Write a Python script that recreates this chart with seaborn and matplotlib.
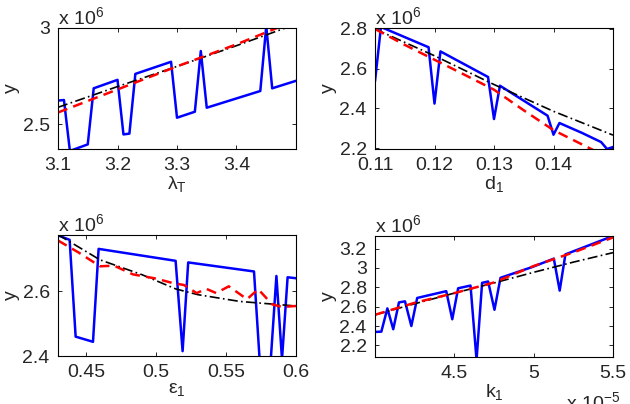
# Sensitivity curves, 2x2 panels
import numpy as np
import pandas as pd
import matplotlib
matplotlib.use("Agg")
import matplotlib.pyplot as plt
import seaborn as sns

# ------------------------------------------
# DATA (y in units of 1e6)
# ------------------------------------------

# panel 1: lambda_T
lam_x_blue = [3.10, 3.11, 3.12, 3.15, 3.16, 3.20, 3.21, 3.22, 3.23, 3.29,
              3.30, 3.33, 3.34, 3.35, 3.44, 3.45, 3.46, 3.50]
lam_y_blue = [2.622, 2.625, 2.36, 2.394, 2.686, 2.73, 2.446, 2.45, 2.761, 2.824,
              2.533, 2.564, 2.88, 2.585, 2.672, 3.01, 2.686, 2.725]
lam_x_line = [3.10, 3.20, 3.30, 3.40, 3.50]
lam_y_black = [2.587, 2.695, 2.80, 2.908, 3.02]
lam_y_red = [2.56, 2.68, 2.80, 2.915, 3.04]

# panel 2: d_1
d_x_blue = [0.110, 0.111, 0.119, 0.120, 0.121, 0.129, 0.130, 0.131,
            0.139, 0.140, 0.141, 0.1448, 0.148, 0.149, 0.150]
d_y_blue = [2.536, 2.81, 2.708, 2.424, 2.687, 2.558, 2.346, 2.514,
            2.363, 2.267, 2.326, 2.276, 2.23, 2.195, 2.205]
d_x_black = [0.11, 0.12, 0.13, 0.14, 0.15]
d_y_black = [2.80, 2.665, 2.52, 2.385, 2.265]
d_x_red = [0.11, 0.115, 0.12, 0.125, 0.13, 0.135, 0.14, 0.145, 0.15]
d_y_red = [2.80, 2.72, 2.645, 2.57, 2.494, 2.39, 2.29, 2.215, 2.14]

# panel 3: epsilon_1
e_x_blue = [0.43, 0.4383, 0.4426, 0.455, 0.459, 0.514, 0.519, 0.523,
            0.570, 0.574, 0.582, 0.586, 0.590, 0.594, 0.60]
e_y_blue = [2.774, 2.76, 2.46, 2.444, 2.732, 2.695, 2.415, 2.69,
            2.662, 2.39, 2.39, 2.648, 2.39, 2.644, 2.641]
e_x_black = [0.43, 0.46, 0.49, 0.514, 0.53, 0.56, 0.60]
e_y_black = [2.776, 2.698, 2.652, 2.608, 2.59, 2.569, 2.555]
e_x_red = [0.43, 0.445, 0.46, 0.47, 0.4835, 0.50, 0.512, 0.52, 0.529,
           0.536, 0.543, 0.552, 0.565, 0.573, 0.583, 0.59, 0.60]
e_y_red = [2.758, 2.72, 2.678, 2.68, 2.653, 2.64, 2.626, 2.62, 2.595,
           2.608, 2.595, 2.616, 2.576, 2.607, 2.56, 2.552, 2.555]

# panel 4: k_1 (x in units of 1e-5)
k_x_blue = [4.0, 4.04, 4.078, 4.115, 4.151, 4.189, 4.229, 4.266, 4.449, 4.487,
            4.524, 4.602, 4.64, 4.675, 4.713, 4.753, 4.791, 4.99, 5.127, 5.164,
            5.2, 5.5]
k_y_blue = [2.339, 2.342, 2.582, 2.367, 2.644, 2.655, 2.40, 2.69, 2.76, 2.47,
            2.79, 2.818, 2.05, 2.846, 2.86, 2.568, 2.898, 3.009, 3.096, 2.766,
            3.14, 3.33]
k_x_line = [4.0, 4.25, 4.5, 4.75, 5.0, 5.25, 5.5]
k_y_black = [2.516, 2.63, 2.74, 2.845, 2.955, 3.06, 3.158]
k_y_red = [2.516, 2.64, 2.74, 2.85, 3.02, 3.16, 3.315]

# ------------------------------------------
# STYLE
# ------------------------------------------

sns.set_style("ticks")
plt.rcParams["font.family"] = ["Liberation Sans", "DejaVu Sans"]
plt.rcParams["mathtext.fontset"] = "custom"
plt.rcParams["mathtext.rm"] = "Liberation Sans"
plt.rcParams["mathtext.it"] = "Liberation Sans"
plt.rcParams["font.size"] = 14

fig = plt.figure(figsize=(6.3, 4.04), dpi=100)

W, H = 630, 404
def box(left, top, right, bottom):
    return [left / W, 1 - bottom / H, (right - left) / W, (bottom - top) / H]

axes = [
    fig.add_axes(box(58, 28, 296, 149)),
    fig.add_axes(box(375, 28, 613, 149)),
    fig.add_axes(box(58, 235, 296, 356)),
    fig.add_axes(box(375, 236, 613, 357)),
]

panels = [
    (lam_x_blue, lam_y_blue, lam_x_line, lam_y_black, lam_x_line, lam_y_red,
     (3.1, 3.5), (2.37, 3.0), [3.1, 3.2, 3.3, 3.4], [2.5, 3.0],
     ["3.1", "3.2", "3.3", "3.4"], ["2.5", "3"], "λ$_{\\mathrm{T}}$"),
    (d_x_blue, d_y_blue, d_x_black, d_y_black, d_x_red, d_y_red,
     (0.11, 0.15), (2.195, 2.805), [0.11, 0.12, 0.13, 0.14], [2.2, 2.4, 2.6, 2.8],
     ["0.11", "0.12", "0.13", "0.14"], ["2.2", "2.4", "2.6", "2.8"], "d$_{\\mathrm{1}}$"),
    (e_x_blue, e_y_blue, e_x_black, e_y_black, e_x_red, e_y_red,
     (0.43, 0.60), (2.4, 2.775), [0.45, 0.5, 0.55, 0.6], [2.4, 2.6],
     ["0.45", "0.5", "0.55", "0.6"], ["2.4", "2.6"], "ε$_{\\mathrm{1}}$"),
    (k_x_blue, k_y_blue, k_x_line, k_y_black, k_x_line, k_y_red,
     (4.0, 5.5), (2.08, 3.33), [4.5, 5.0, 5.5], [2.2, 2.4, 2.6, 2.8, 3.0, 3.2],
     ["4.5", "5", "5.5"], ["2.2", "2.4", "2.6", "2.8", "3", "3.2"], "k$_{\\mathrm{1}}$"),
]

# ------------------------------------------
# PLOT
# ------------------------------------------

for ax, p in zip(axes, panels):
    (xb, yb, xk, yk, xr, yr, xlim, ylim, xt, yt, xtl, ytl, xlab) = p
    sns.lineplot(x=xb, y=yb, ax=ax, color="#0000ff", linewidth=1.8, sort=False)
    sns.lineplot(x=xk, y=yk, ax=ax, color="black", linewidth=1.2,
                 linestyle=(0, (6, 2, 1, 2)))
    sns.lineplot(x=xr, y=yr, ax=ax, color="#ff0000", linewidth=1.8,
                 linestyle=(0, (4, 2.5)))
    ax.set_xlim(*xlim)
    ax.set_ylim(*ylim)
    ax.set_xticks(xt)
    ax.set_xticklabels(xtl)
    ax.set_yticks(yt)
    ax.set_yticklabels(ytl)
    ax.tick_params(direction="in", length=3, width=0.7, top=True, right=True,
                   labelsize=14)
    ax.tick_params(axis="x", pad=6)
    ax.tick_params(axis="y", pad=6)
    for s in ax.spines.values():
        s.set_linewidth(0.8)
        s.set_color("black")
    ax.set_xlabel(xlab, fontsize=14, labelpad=0)
    ax.set_ylabel("y", fontsize=14, labelpad=2)
    ax.text(0.0, 1.0, "x 10$^{6}$", transform=ax.transAxes,
            fontsize=14, ha="left", va="bottom")

# x-axis multiplier on the k_1 panel (partly below the figure edge)
axes[3].text(1.03, -0.28, "x 10$^{-5}$", transform=axes[3].transAxes,
             fontsize=14, ha="right", va="top")

fig.savefig("out.png", dpi=100)
